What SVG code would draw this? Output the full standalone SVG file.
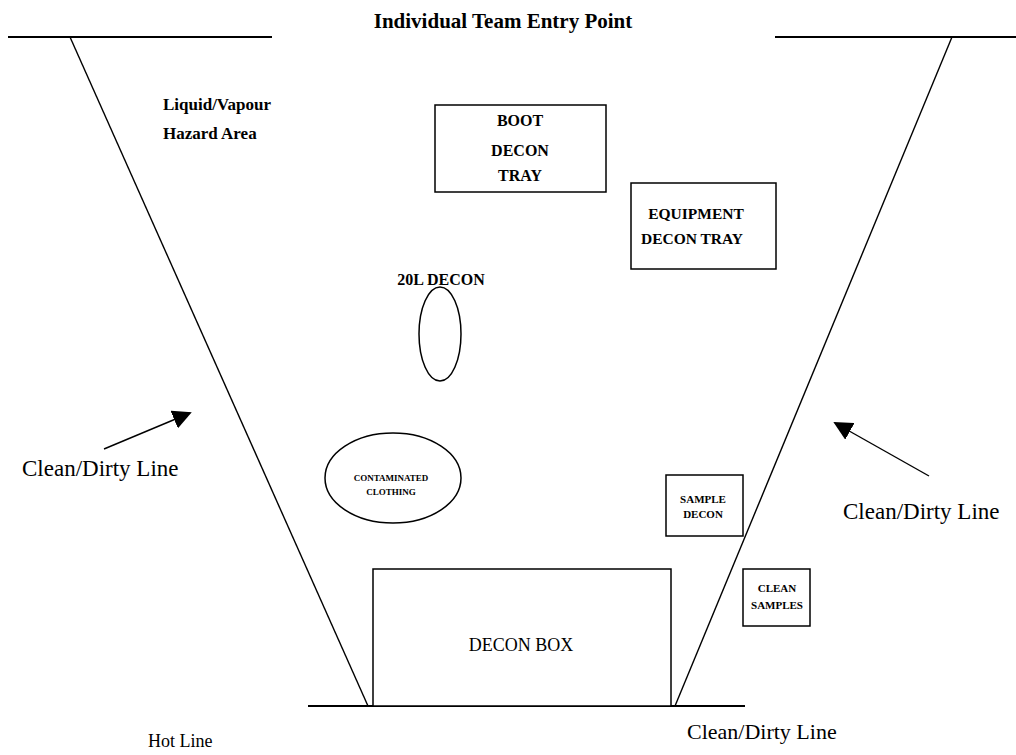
<svg xmlns="http://www.w3.org/2000/svg" width="1016" height="755" viewBox="0 0 1016 755">
<style>
.ln{stroke:#000;fill:none;stroke-width:1.4}
.thick{stroke:#000;fill:none;stroke-width:2.2}
.box{stroke:#000;fill:#fff;stroke-width:1.5}
.t{font-family:"Liberation Serif","Times New Roman",serif;fill:#000;text-anchor:middle}
.b{font-weight:bold}
.l{text-anchor:start}
</style>
<defs>
<marker id="ah" viewBox="0 0 10 10" refX="9" refY="5" markerWidth="19" markerHeight="19" markerUnits="userSpaceOnUse" orient="auto">
<path d="M0,0 L10,5 L0,10 Z" fill="#000"/>
</marker>
</defs>
<rect width="1016" height="755" fill="#fff"/>
<g id="connectors">
<line class="thick" x1="8" y1="37" x2="272" y2="37"/>
<line class="thick" x1="775" y1="37" x2="1016" y2="37"/>
<line class="ln" x1="70" y1="37" x2="368" y2="706"/>
<line class="ln" x1="952" y1="37" x2="675" y2="706"/>
<line class="thick" x1="308" y1="706" x2="745" y2="706"/>
<line class="ln" x1="104" y1="449" x2="190" y2="413" marker-end="url(#ah)"/>
<line class="ln" x1="929" y1="476" x2="835" y2="423" marker-end="url(#ah)"/>
</g>
<g id="title"><text class="t b" x="503" y="28" font-size="21">Individual Team Entry Point</text></g>
<g id="hazard-area"><text class="t b l" x="163" y="110" font-size="17">Liquid/Vapour</text><text class="t b l" x="163" y="139" font-size="17">Hazard Area</text></g>
<g id="boot-decon-tray"><rect class="box" x="435" y="105" width="171" height="87"/>
<text class="t b" x="520" y="126" font-size="16">BOOT</text><text class="t b" x="520" y="156" font-size="16">DECON</text><text class="t b" x="520" y="181" font-size="16">TRAY</text></g>
<g id="equipment-decon-tray"><rect class="box" x="631" y="183" width="145" height="86"/>
<text class="t b" x="696" y="219" font-size="15.5">EQUIPMENT</text><text class="t b" x="692" y="244" font-size="15.5">DECON TRAY</text></g>
<g id="decon-20l"><text class="t b" x="441" y="285" font-size="16">20L DECON</text>
<ellipse class="box" cx="440" cy="334" rx="21" ry="47"/></g>
<g id="contaminated-clothing"><ellipse class="box" cx="393" cy="478" rx="68" ry="45"/>
<text class="t b" x="391" y="481" font-size="9">CONTAMINATED</text><text class="t b" x="391" y="495" font-size="9">CLOTHING</text></g>
<g id="sample-decon"><rect class="box" x="666" y="475" width="77" height="61"/>
<text class="t b" x="703" y="503" font-size="11">SAMPLE</text><text class="t b" x="703" y="518" font-size="11">DECON</text></g>
<g id="clean-samples"><rect class="box" x="743" y="569" width="67" height="57"/>
<text class="t b" x="777" y="592" font-size="11">CLEAN</text><text class="t b" x="777" y="609" font-size="11">SAMPLES</text></g>
<g id="decon-box"><rect class="box" x="373" y="569" width="298" height="137"/>
<text class="t" x="521" y="651" font-size="18">DECON BOX</text></g>
<g id="labels">
<text class="t l" x="22" y="476" font-size="23">Clean/Dirty Line</text>
<text class="t l" x="843" y="519" font-size="23">Clean/Dirty Line</text>
<text class="t l" x="148" y="747" font-size="18">Hot Line</text>
<text class="t l" x="687" y="739" font-size="22">Clean/Dirty Line</text>
</g>
</svg>
